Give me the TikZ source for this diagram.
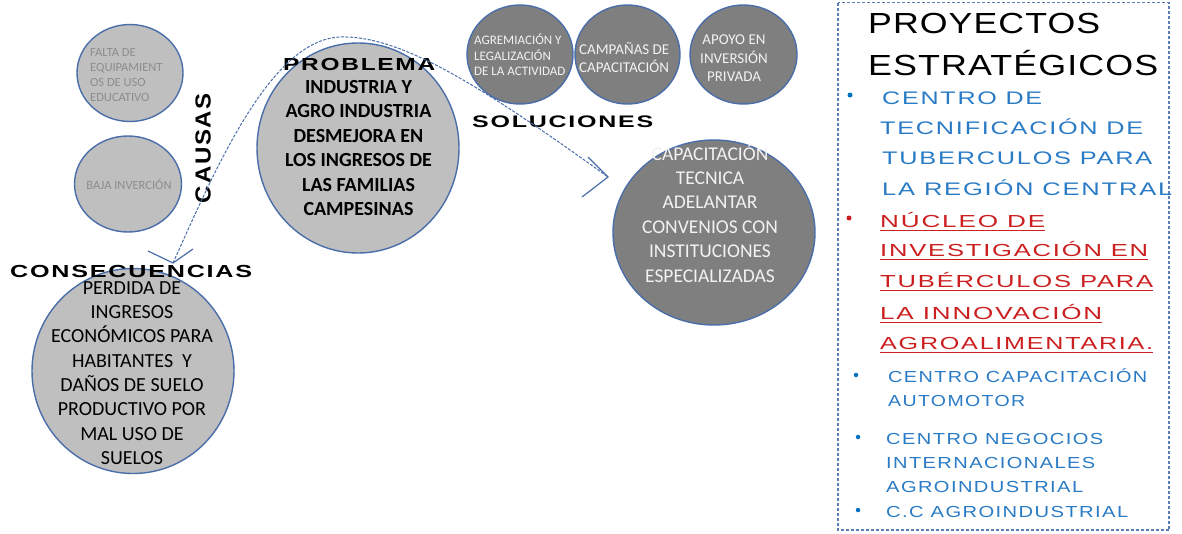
\documentclass[tikz,border=0pt]{standalone}
\usepackage{fontspec}
\usepackage{graphicx}
\setmainfont{Carlito}
\usetikzlibrary{shapes.geometric,calc}
\newfontfamily\labfont{Liberation Sans}[LetterSpace=7]
\newfontfamily\titfont{Liberation Sans}[LetterSpace=3]
\newfontfamily\itmfont{Liberation Sans}[LetterSpace=7]
\newcommand\fitbox[4]{\resizebox{#2pt}{#3pt}{#1\raisebox{0pt}[\fontcharht\font`\E][0pt]{#4}}}
\definecolor{edge}{HTML}{4A6EA9}
\definecolor{lightfill}{HTML}{BFBFBF}
\definecolor{darkfill}{HTML}{7F7F7F}
\definecolor{graytext}{HTML}{8C8C8C}
\definecolor{paletext}{HTML}{F2F2F2}
\definecolor{itemblue}{HTML}{2A7BC6}
\definecolor{bulblue}{HTML}{0070C0}
\definecolor{itemred}{HTML}{CC1F1F}
\definecolor{boxblue}{HTML}{5B7DB8}
\tikzset{
  bubble/.style={ellipse, draw=edge, line width=1.4pt, inner sep=0pt},
  lightbubble/.style={bubble, fill=lightfill},
  darkbubble/.style={bubble, fill=darkfill},
  lab/.style={inner sep=0pt, text=black},
  itm/.style={inner sep=0pt, anchor=west},
  bul/.style={circle, inner sep=0pt, minimum size=5pt},
  curve/.style={draw=edge, line width=1pt, dash pattern=on 3pt off 1.5pt},
  tipline/.style={draw=edge, line width=1.2pt},
  uline/.style={draw=itemred, line width=1.2pt}
}
\begin{document}
\begin{tikzpicture}[x=1pt,y=-1pt]
\useasboundingbox (0,0) rectangle (1182,533);
\fill[white] (0,0) rectangle (1182,533);

% causes
\node[lightbubble, minimum width=106pt, minimum height=97pt] (falta) at (130,73) {};
\node[anchor=west, inner sep=0pt, align=left, text=graytext, font=\fontsize{12.5}{15.3}\selectfont] (faltat) at (90,75) {FALTA DE\\EQUIPAMIENT\\OS DE USO\\EDUCATIVO};
\node[lightbubble, minimum width=107pt, minimum height=96pt] (baja) at (128,184) {};
\node[inner sep=0pt, text=graytext, font=\fontsize{12.5}{15}\selectfont] (bajat) at (129,184) {BAJA INVERCIÓN};

% problem
\node[lightbubble, minimum width=202pt, minimum height=210pt] (prob) at (358,148) {};
\node[inner sep=0pt, align=center, font=\bfseries\fontsize{20}{24.4}\selectfont] (probt) at (358.5,148) {INDUSTRIA Y\\AGRO INDUSTRIA\\DESMEJORA EN\\LOS INGRESOS DE\\LAS FAMILIAS\\CAMPESINAS};

% consequences
\node[lightbubble, minimum width=202pt, minimum height=205pt] (cons) at (133,371) {};
\node[inner sep=0pt, align=center, font=\fontsize{20}{24.3}\selectfont] (const) at (132,373) {PERDIDA DE\\INGRESOS\\ECONÓMICOS PARA\\HABITANTES\ \ Y\\DAÑOS DE SUELO\\PRODUCTIVO POR\\MAL USO DE\\SUELOS};

% solutions
\node[darkbubble, minimum width=106pt, minimum height=99pt] (agre) at (520,54.5) {};
\node[anchor=west, inner sep=0pt, align=left, text=paletext, font=\fontsize{13}{15.5}\selectfont] (agret) at (474,55) {AGREMIACIÓN Y\\LEGALIZACIÓN\\DE LA ACTIVIDAD};
\node[darkbubble, minimum width=105pt, minimum height=99pt] (camp) at (627.5,54.5) {};
\node[anchor=west, inner sep=0pt, align=left, text=paletext, font=\fontsize{15}{18}\selectfont] (campt) at (579,58) {CAMPAÑAS DE\\CAPACITACIÓN};
\node[darkbubble, minimum width=107pt, minimum height=99pt] (apoyo) at (743.5,54.5) {};
\node[inner sep=0pt, align=center, text=paletext, font=\fontsize{15}{18.5}\selectfont] (apoyot) at (734,58.5) {APOYO EN\\INVERSIÓN\\PRIVADA};
\node[darkbubble, minimum width=202pt, minimum height=185pt] (sol) at (714,232.5) {};
\node[inner sep=0pt, align=center, text=paletext, font=\fontsize{19.5}{24.4}\selectfont] (solt) at (710,213) {CAPACITACIÓN\\TECNICA\\ADELANTAR\\CONVENIOS CON\\INSTITUCIONES\\ESPECIALIZADAS};

% labels
\node[lab, anchor=west] (lprob) at (283,64) {\fitbox{\labfont\bfseries}{152}{12}{PROBLEMA}};
\node[lab, anchor=west] (lcons) at (10,271) {\fitbox{\labfont\bfseries}{242}{12}{CONSECUENCIAS}};
\node[lab, anchor=west] (lsol) at (472,122) {\fitbox{\labfont\bfseries}{181}{11.5}{SOLUCIONES}};
\node[lab, rotate=90] (lcaus) at (203,148) {\fitbox{\labfont\bfseries}{110}{15}{CAUSAS}};

% dashed connector
\coordinate (cl) at (173,263);
\coordinate (ctop) at (340,37);
\coordinate (cr) at (608,177);
\draw[curve] (cl) .. controls (215,170) and (270,40) .. (ctop) .. controls (400,35) and (480,85) .. (cr);
\draw[tipline] ($(cl)+(-25,-12)$) -- (cl) -- ($(cl)+(20,-14)$);
\draw[tipline] ($(cr)+(-20,-20)$) -- (cr) -- ($(cr)+(-26,20)$);

% projects box
\draw[draw=boxblue, line width=1.5pt, dash pattern=on 3pt off 2pt] (838,2.5) rectangle (1169,530);
\node[lab, anchor=west] (ptit1) at (868,23) {\fitbox{\titfont}{232}{20}{PROYECTOS}};
\node[lab, anchor=west] (ptit2) at (868,65) {\fitbox{\titfont}{290}{20}{ESTRATÉGICOS}};

\node[bul, fill=bulblue] (b1) at (850,95) {};
\node[itm, text=itemblue] (i1a) at (882,98) {\fitbox{\itmfont}{160}{12.5}{CENTRO DE}};
\node[itm, text=itemblue] (i1b) at (880,128.5) {\fitbox{\itmfont}{263}{12.5}{TECNIFICACIÓN DE}};
\node[itm, text=itemblue] (i1c) at (882,158.5) {\fitbox{\itmfont}{270}{12.5}{TUBERCULOS PARA}};
\node[itm, text=itemblue] (i1d) at (882,189.5) {\fitbox{\itmfont}{290}{12.5}{LA REGIÓN CENTRAL}};

\node[bul, fill=itemred] (b2) at (849,218) {};
\node[itm, text=itemred] (i2a) at (880,221) {\fitbox{\itmfont}{165}{12}{NÚCLEO DE}};
\node[itm, text=itemred] (i2b) at (880,250) {\fitbox{\itmfont}{268}{12}{INVESTIGACIÓN EN}};
\node[itm, text=itemred] (i2c) at (880,281.5) {\fitbox{\itmfont}{273}{12}{TUBÉRCULOS PARA}};
\node[itm, text=itemred] (i2d) at (880,313) {\fitbox{\itmfont}{222}{12}{LA INNOVACIÓN}};
\node[itm, text=itemred] (i2e) at (880,343.5) {\fitbox{\itmfont}{273}{12}{AGROALIMENTARIA.}};
\foreach \n in {i2a,i2b,i2c,i2d,i2e}{
  \draw[uline] ($(\n.south west)+(0,3)$) -- ($(\n.south east)+(0,3)$);
}

\node[bul, fill=bulblue, minimum size=4.5pt] (b3) at (856,375) {};
\node[itm, text=itemblue] (i3a) at (888,376.5) {\fitbox{\itmfont}{259}{11}{CENTRO CAPACITACIÓN}};
\node[itm, text=itemblue] (i3b) at (888,400.5) {\fitbox{\itmfont}{137}{11}{AUTOMOTOR}};

\node[bul, fill=bulblue, minimum size=4.5pt] (b4) at (858,437) {};
\node[itm, text=itemblue] (i4a) at (886,438.5) {\fitbox{\itmfont}{217}{11}{CENTRO NEGOCIOS}};
\node[itm, text=itemblue] (i4b) at (886,462.5) {\fitbox{\itmfont}{209}{11}{INTERNACIONALES}};
\node[itm, text=itemblue] (i4c) at (886,487) {\fitbox{\itmfont}{197}{11}{AGROINDUSTRIAL}};

\node[bul, fill=bulblue, minimum size=4.5pt] (b5) at (858,510) {};
\node[itm, text=itemblue] (i5a) at (886,512) {\fitbox{\itmfont}{242}{11}{C.C AGROINDUSTRIAL}};
\end{tikzpicture}
\end{document}
